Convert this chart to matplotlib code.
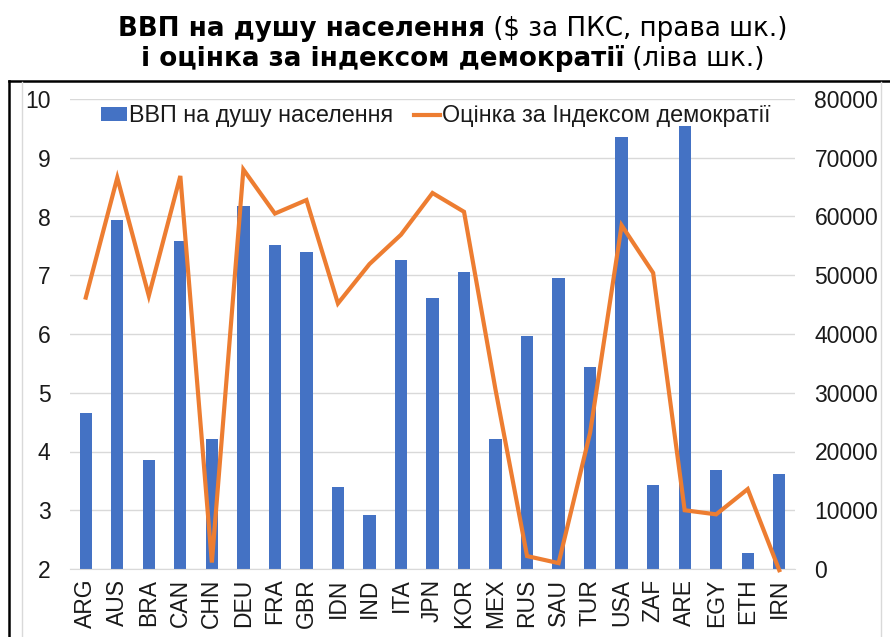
import numpy as np
import matplotlib
matplotlib.use("Agg")
import matplotlib.pyplot as plt
from matplotlib.lines import Line2D
from matplotlib.patches import Patch

countries = ["ARG", "AUS", "BRA", "CAN", "CHN", "DEU", "FRA", "GBR", "IDN", "IND",
             "ITA", "JPN", "KOR", "MEX", "RUS", "SAU", "TUR", "USA", "ZAF", "ARE",
             "EGY", "ETH", "IRN"]
gdp_ppp = [26500, 59350, 18550, 55800, 22100, 61800, 55200, 54000, 14000, 9250,
           52600, 46100, 50500, 22200, 39700, 49500, 34300, 73500, 14300, 75400,
           16850, 2770, 16100]
democracy = [6.62, 8.66, 6.65, 8.69, 2.11, 8.80, 8.05, 8.28, 6.52, 7.19,
             7.69, 8.40, 8.08, 5.05, 2.22, 2.10, 4.32, 7.85, 7.04, 3.00,
             2.93, 3.36, 1.98]

BLUE = "#4472C4"
ORANGE = "#ED7D31"
INK = "#1a1a1a"
GRID = "#d9d9d9"
FONT = "Liberation Sans"

fig = plt.figure(figsize=(8.9, 6.37), dpi=100)
W, H = 890, 637
ax = fig.add_axes([70 / W, 1 - 569 / H, 725 / W, 470 / H])
ax2 = ax.twinx()

x = np.arange(len(countries))
ax2.bar(x, gdp_ppp, width=0.39, color=BLUE, zorder=2)
ax2.set_ylim(0, 80000)
ax2.set_yticks(range(0, 80001, 10000))
ax2.grid(axis="y", color=GRID, lw=1.0, zorder=0)
ax2.set_axisbelow(True)

ax.set_zorder(ax2.get_zorder() + 1)
ax.patch.set_visible(False)
ax.plot(x, democracy, color=ORANGE, lw=3.0, solid_joinstyle="miter", clip_on=False)
ax.set_ylim(2, 10)
ax.set_yticks(range(2, 11))
ax.set_xlim(-0.5, len(countries) - 0.5)
ax.set_xticks(x)
ax.set_xticklabels(countries, rotation=90)

for a in (ax, ax2):
    for s in a.spines.values():
        s.set_visible(False)
    a.tick_params(length=0, labelsize=16.5, colors=INK)
    for lab in a.get_xticklabels() + a.get_yticklabels():
        lab.set_fontfamily(FONT)
ax.tick_params(axis="y", pad=14)
ax.tick_params(axis="x", pad=7)
ax2.tick_params(axis="y", pad=14)
ax2.spines["bottom"].set_visible(True)
ax2.spines["bottom"].set_color(GRID)

handles = [Patch(facecolor=BLUE, edgecolor="none"),
           Line2D([], [], color=ORANGE, lw=3.0)]
labels = ["ВВП на душу населення", "Оцінка за Індексом демократії"]
leg = ax.legend(handles, labels, loc="center", bbox_to_anchor=(0.505, 0.964),
                ncol=2, frameon=False, handlelength=1.1, handleheight=0.55,
                handletextpad=0.1, columnspacing=0.9,
                prop={"family": FONT, "size": 16.8})
for t in leg.get_texts():
    t.set_color(INK)

# title: bold part + regular part on each line, centred together
renderer = fig.canvas.get_renderer()
title_lines = [("ВВП на душу населення", " ($ за ПКС, права шк.)", 1 - 36.5 / H),
               ("і оцінка за індексом демократії", " (ліва шк.)", 1 - 65.5 / H)]
for bold, plain, yb in title_lines:
    t1 = fig.text(0, yb, bold, fontsize=18.8, fontweight="bold", family="DejaVu Sans",
                  color="black", va="baseline", ha="left")
    t2 = fig.text(0, yb, plain, fontsize=18.8, family="DejaVu Sans",
                  color="black", va="baseline", ha="left")
    w1 = t1.get_window_extent(renderer).width
    w2 = t2.get_window_extent(renderer).width
    x0 = 453 - (w1 + w2) / 2
    t1.set_x(x0 / W)
    t2.set_x((x0 + w1) / W)

# frame lines around the chart
fig.add_artist(Line2D([9 / W, 1], [1 - 81 / H, 1 - 81 / H], color="black", lw=1.8))
fig.add_artist(Line2D([9 / W, 9 / W], [0, 1 - 81 / H], color="black", lw=1.8))
fig.add_artist(Line2D([22 / W, 22 / W], [0, 1 - 82 / H], color=GRID, lw=1.0))
fig.add_artist(Line2D([881 / W, 881 / W], [0, 1 - 82 / H], color=GRID, lw=1.0))

fig.savefig("out.png", dpi=100)
